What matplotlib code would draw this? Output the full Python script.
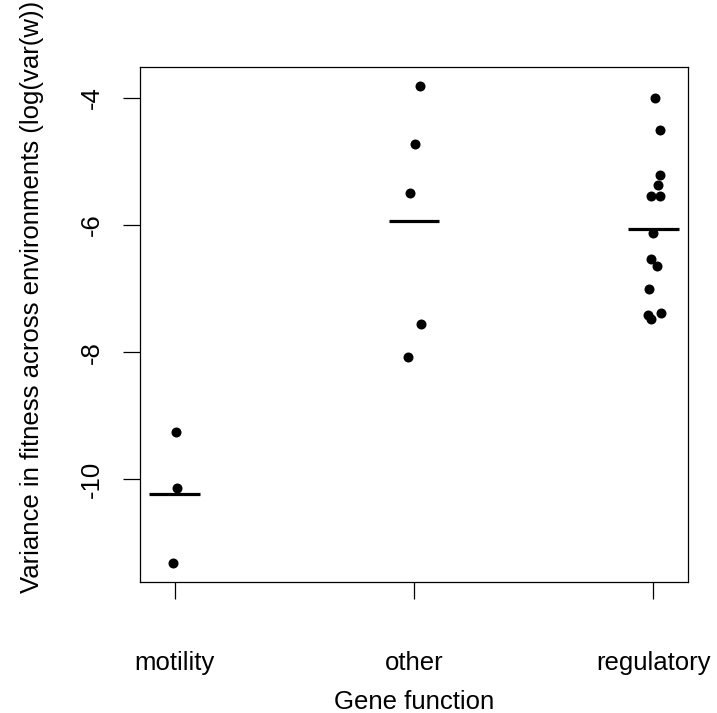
import numpy as np
import matplotlib
matplotlib.use("Agg")
import matplotlib.pyplot as plt

plt.rcParams["font.family"] = ["Liberation Sans", "DejaVu Sans"]

# gene function groups and their log(var(w)) values
groups = ["motility", "other", "regulatory"]
motility = [-9.25, -10.13, -11.32]
other = [-3.82, -4.72, -5.49, -7.55, -8.07]
regulatory = [-4.01, -4.51, -5.22, -5.37, -5.55, -5.55, -6.13,
              -6.53, -6.64, -7.00, -7.42, -7.38, -7.48]
# horizontal jitter of each point (in category units)
jit_motility = [0.006, 0.010, -0.008]
jit_other = [0.025, 0.005, -0.017, 0.030, -0.023]
jit_regulatory = [0.007, 0.028, 0.029, 0.021, -0.010, 0.029, -0.001,
                  -0.008, 0.018, -0.017, -0.020, 0.033, -0.010]

values = [motility, other, regulatory]
jitters = [jit_motility, jit_other, jit_regulatory]

fig = plt.figure(figsize=(7.17, 7.13), dpi=100)
ax = fig.add_axes([0.1953, 0.1833, 0.7647, 0.7227])

for i, (vals, jit) in enumerate(zip(values, jitters), start=1):
    x = i + np.array(jit)
    ax.plot(x, vals, "o", color="black", ms=7.2, mew=0)
    m = np.mean(vals)
    ax.plot([i - 0.106, i + 0.106], [m, m], color="black", lw=2.3,
            solid_capstyle="butt")

ax.set_xlim(0.855, 3.147)
ax.set_ylim(-11.62, -3.516)
ax.set_xticks([1, 2, 3])
ax.set_xticklabels(groups)
ax.set_yticks([-4, -6, -8, -10])
ax.set_yticklabels(["-4", "-6", "-8", "-10"], rotation=90, va="center")
ax.tick_params(axis="both", direction="out", length=12.2, width=0.9,
               labelsize=18.5, color="black")
ax.tick_params(axis="x", pad=37)
ax.tick_params(axis="y", pad=14)
for s in ax.spines.values():
    s.set_linewidth(0.9)

ax.set_xlabel("Gene function", fontsize=18.5, labelpad=11)
ax.set_ylabel("Variance in fitness across environments (log(var(w))",
              fontsize=18.5)
ax.yaxis.set_label_coords(-0.175, 0.554)

fig.savefig("out.png", dpi=100)
